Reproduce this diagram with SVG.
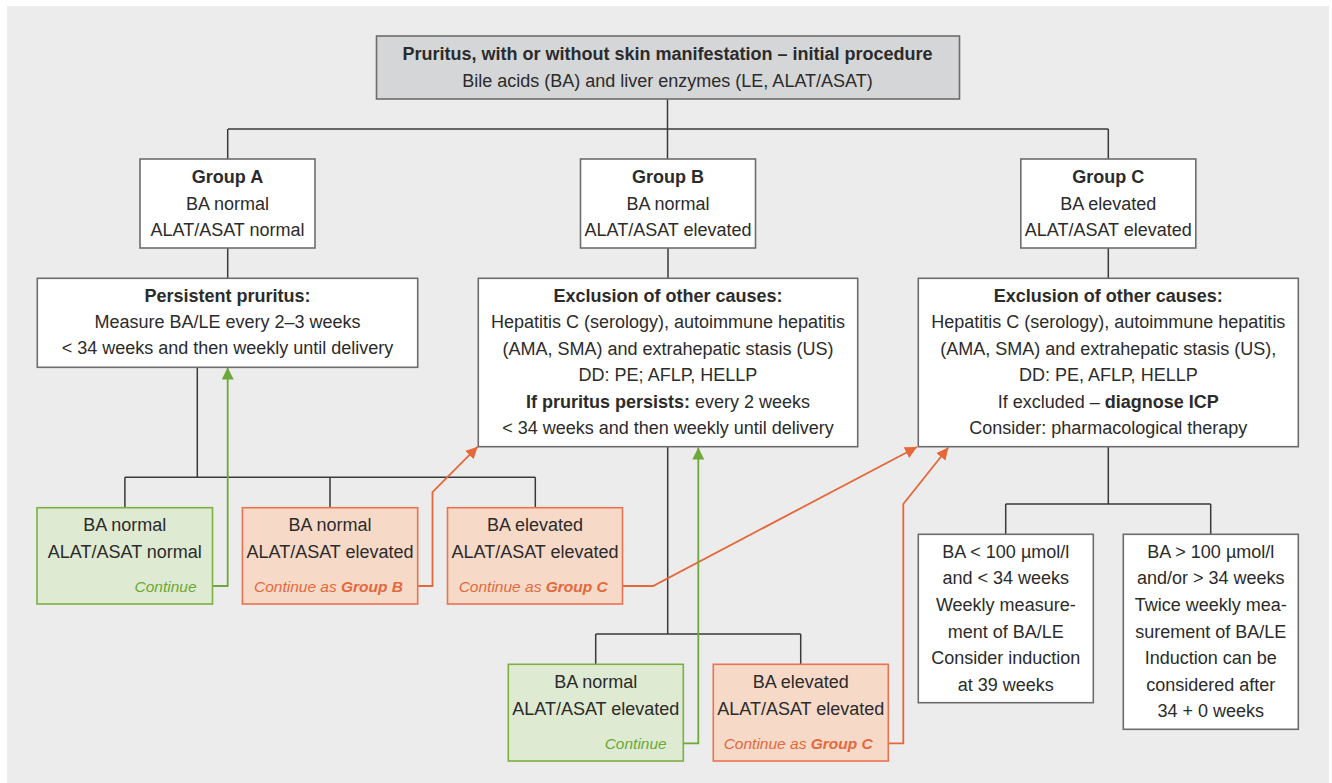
<svg xmlns="http://www.w3.org/2000/svg" width="1332" height="783" viewBox="0 0 1332 783">
<style>
.bg{fill:#ebeceb}
.box{fill:#ffffff;stroke:#6d6d6d;stroke-width:1.6}
.top{fill:#d5d6d7;stroke:#6d6d6d;stroke-width:1.6}
.gbox{fill:#dfead2;stroke:#7db043;stroke-width:1.6}
.obox{fill:#f7d9c8;stroke:#ea7350;stroke-width:1.6}
.ln{fill:none;stroke:#3a3a3a;stroke-width:1.5}
.gl{fill:none;stroke:#6fa83a;stroke-width:1.8}
.ol{fill:none;stroke:#e5683a;stroke-width:1.8}
text{font-family:"Liberation Sans",Arial,sans-serif;font-size:18px;fill:#2b2b2b;text-anchor:middle}
.b{font-weight:bold}
.it{font-style:italic;font-size:15.5px;text-anchor:end}
.gt{fill:#6aa834}
.ot{fill:#e2693d}
</style>
<defs>
<marker id="ga" markerUnits="userSpaceOnUse" markerWidth="12" markerHeight="12" refX="12" refY="6" orient="auto"><path d="M0,0 L12,6 L0,12 z" fill="#6fa83a"/></marker>
<marker id="oa" markerUnits="userSpaceOnUse" markerWidth="12" markerHeight="12" refX="12" refY="6" orient="auto"><path d="M0,0 L12,6 L0,12 z" fill="#e5683a"/></marker>
</defs>
<rect class="bg" x="7" y="6" width="1322" height="777"/>

<g id="connectors">
<path class="ln" d="M667.5,99 V159 M228,129 H1108.3 M227.7,129 V159 M1108.3,129 V159"/>
<path class="ln" d="M227.7,248 V278.3 M668,248 V278.3 M1108.3,248 V278.3"/>
<path class="ln" d="M197.3,367.3 V477.3 M124.9,477.3 H535.3 M124.9,477.3 V507.7 M330,477.3 V507.7 M535.3,477.3 V507.7"/>
<path class="ln" d="M667.7,446.7 V634 M595.7,634 H800.7 M595.7,634 V664.3 M800.7,634 V664.3"/>
<path class="ln" d="M1108.3,446.7 V504 M1005.7,504 H1210.7 M1005.7,504 V534.3 M1210.7,504 V534.3"/>
<path class="gl" d="M205,586 H227.7 V367.5" marker-end="url(#ga)"/>
<path class="ol" d="M411,586 H432.5 V492 L477.7,446.7" marker-end="url(#oa)"/>
<path class="ol" d="M615,586 H653 L917,447" marker-end="url(#oa)"/>
<path class="gl" d="M676,743.3 H698.3 V447.5" marker-end="url(#ga)"/>
<path class="ol" d="M880.7,743.3 H903.3 V504 L948.3,447.5" marker-end="url(#oa)"/>
</g>

<g id="start">
<rect class="top" x="376.5" y="36" width="583" height="63"/>
<text class="b" x="667.5" y="60">Pruritus, with or without skin manifestation – initial procedure</text>
<text x="667.5" y="86.7">Bile acids (BA) and liver enzymes (LE, ALAT/ASAT)</text>
</g>

<g id="groupA">
<rect class="box" x="140" y="159" width="175" height="89"/>
<text class="b" x="227.5" y="183">Group A</text>
<text x="227.5" y="209.5">BA normal</text>
<text x="227.5" y="236">ALAT/ASAT normal</text>
</g>
<g id="groupB">
<rect class="box" x="580.5" y="159" width="175" height="89"/>
<text class="b" x="668" y="183">Group B</text>
<text x="668" y="209.5">BA normal</text>
<text x="668" y="236">ALAT/ASAT elevated</text>
</g>
<g id="groupC">
<rect class="box" x="1020.8" y="159" width="175" height="89"/>
<text class="b" x="1108.3" y="183">Group C</text>
<text x="1108.3" y="209.5">BA elevated</text>
<text x="1108.3" y="236">ALAT/ASAT elevated</text>
</g>

<g id="persistentA">
<rect class="box" x="37.3" y="278.3" width="380.4" height="89"/>
<text class="b" x="227.5" y="302.3">Persistent pruritus:</text>
<text x="227.5" y="328.3">Measure BA/LE every 2–3 weeks</text>
<text x="227.5" y="354.3">&lt; 34 weeks and then weekly until delivery</text>
</g>
<g id="exclusionB">
<rect class="box" x="478.3" y="278.3" width="379.4" height="168.4"/>
<text class="b" x="668" y="301.7">Exclusion of other causes:</text>
<text x="668" y="327.7">Hepatitis C (serology), autoimmune hepatitis</text>
<text x="668" y="354.7">(AMA, SMA) and extrahepatic stasis (US)</text>
<text x="668" y="381">DD: PE; AFLP, HELLP</text>
<text x="668" y="407.7"><tspan class="b">If pruritus persists:</tspan> every 2 weeks</text>
<text x="668" y="434.3">&lt; 34 weeks and then weekly until delivery</text>
</g>
<g id="exclusionC">
<rect class="box" x="918.3" y="278.3" width="380" height="168.4"/>
<text class="b" x="1108.3" y="301.7">Exclusion of other causes:</text>
<text x="1108.3" y="327.7">Hepatitis C (serology), autoimmune hepatitis</text>
<text x="1108.3" y="354.7">(AMA, SMA) and extrahepatic stasis (US),</text>
<text x="1108.3" y="381">DD: PE, AFLP, HELLP</text>
<text x="1108.3" y="407.7">If excluded – <tspan class="b">diagnose ICP</tspan></text>
<text x="1108.3" y="434.3">Consider: pharmacological therapy</text>
</g>

<g id="a1">
<rect class="gbox" x="37" y="507.7" width="175.5" height="96.3"/>
<text x="124.8" y="530.7">BA normal</text>
<text x="124.8" y="557.7">ALAT/ASAT normal</text>
<text class="it gt" x="196.5" y="591.5">Continue</text>
</g>
<g id="a2">
<rect class="obox" x="242.4" y="507.7" width="175.3" height="96.3"/>
<text x="330" y="530.7">BA normal</text>
<text x="330" y="557.7">ALAT/ASAT elevated</text>
<text class="it ot" x="403" y="591.5">Continue as <tspan class="b">Group B</tspan></text>
</g>
<g id="a3">
<rect class="obox" x="447.5" y="507.7" width="175" height="96.3"/>
<text x="535" y="530.7">BA elevated</text>
<text x="535" y="557.7">ALAT/ASAT elevated</text>
<text class="it ot" x="607.7" y="591.5">Continue as <tspan class="b">Group C</tspan></text>
</g>
<g id="b1">
<rect class="gbox" x="508.3" y="664.3" width="175" height="96.7"/>
<text x="595.8" y="687.7">BA normal</text>
<text x="595.8" y="715">ALAT/ASAT elevated</text>
<text class="it gt" x="666.7" y="749">Continue</text>
</g>
<g id="b2">
<rect class="obox" x="713.3" y="664.3" width="175" height="96.7"/>
<text x="800.8" y="687.7">BA elevated</text>
<text x="800.8" y="715">ALAT/ASAT elevated</text>
<text class="it ot" x="872.7" y="749">Continue as <tspan class="b">Group C</tspan></text>
</g>
<g id="c1">
<rect class="box" x="918.3" y="534.3" width="175" height="168.4"/>
<text x="1005.8" y="557.7">BA &lt; 100 µmol/l</text>
<text x="1005.8" y="584.3">and &lt; 34 weeks</text>
<text x="1005.8" y="611">Weekly measure-</text>
<text x="1005.8" y="637.7">ment of BA/LE</text>
<text x="1005.8" y="664.3">Consider induction</text>
<text x="1005.8" y="691">at 39 weeks</text>
</g>
<g id="c2">
<rect class="box" x="1123.3" y="534.3" width="175" height="195"/>
<text x="1210.8" y="557.7">BA &gt; 100 µmol/l</text>
<text x="1210.8" y="584.3">and/or &gt; 34 weeks</text>
<text x="1210.8" y="611">Twice weekly mea-</text>
<text x="1210.8" y="637.7">surement of BA/LE</text>
<text x="1210.8" y="664.3">Induction can be</text>
<text x="1210.8" y="691">considered after</text>
<text x="1210.8" y="717.3">34 + 0 weeks</text>
</g>
</svg>
